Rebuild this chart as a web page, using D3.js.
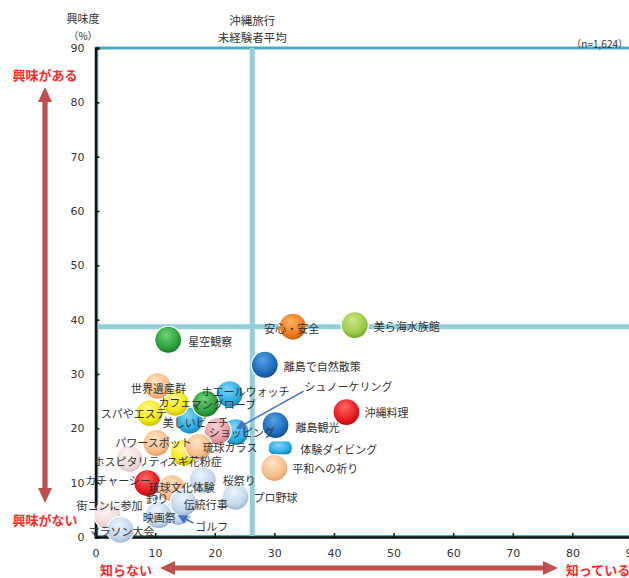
<!DOCTYPE html>
<html><head><meta charset="utf-8">
<script src="https://cdn.jsdelivr.net/npm/d3@7/dist/d3.min.js"></script>
<style>
html,body{margin:0;padding:0;background:#fff;}
svg{display:block;}
text{font-family:"Noto Sans CJK JP","Noto Sans",sans-serif;}
</style></head>
<body>
<svg id="chart" width="629" height="578"></svg>
<script>
// ---- data ----
const items = ["ゴルフ","美しいビーチ","シュノーケリング","スギ花粉症","カフェ","釣り",
  "美ら海水族館","安心・安全","星空観察","離島で自然散策","沖縄料理","離島観光","体験ダイビング","平和への祈り",
  "ホエールウォッチ","マングローブ","世界遺産群","スパやエステ","ショッピング","琉球ガラス","パワースポット",
  "ホスピタリティ","カチャーシー","琉球文化体験","桜祭り","プロ野球","伝統行事","映画祭","街コンに参加","マラソン大会"];
// 認知度（知っている, %）
const awareness = [13.9,15.8,23.5,14.8,13.4,10.2,
  43.5,33.1,12.2,28.4,42.1,30.2,31.0,30.0,
  22.5,18.5,10.4,9.1,20.5,17.3,10.2,
  5.7,8.7,12.8,18.0,23.5,14.8,10.6,2.0,4.2];
// 興味度（%）
const interest = [4.6,21.4,19.3,15.5,24.7,7.2,
  39.0,38.7,36.3,31.7,23.0,20.6,16.4,12.7,
  26.3,24.5,27.8,22.8,19.5,16.6,17.3,
  14.4,9.9,9.0,10.5,7.4,6.3,4.0,4.0,1.3];
const colorGroup = ["lightblue","cyan","cyan","yellow","yellow","cyan",
  "lightgreen","orange","green","darkblue","red","darkblue","cyan","peach",
  "cyan","green","peach","yellow","pink","peach","peach",
  "lightpink","red","peach","lightblue","lightblue","lightblue","lightblue","lightpink","lightblue"];
const avgAwareness = 26.3;   // 沖縄旅行未経験者平均
const avgInterest = 38.7;
const xTicks = [0,10,20,30,40,50,60,70,80,90];
const yTicks = [0,10,20,30,40,50,60,70,80,90];
const sampleNote = "（n=1,624）";

// ---- layout / style (not data) ----
const palette = {
  orange:["#fbb56a","#f07c1b","#c45a05"],
  lightgreen:["#cce88f","#9ccb48","#74a028"],
  green:["#72d27c","#2ea33c","#1a7628"],
  darkblue:["#5aa2e2","#1f6ebd","#144e8a"],
  red:["#ff6a6a","#e81b1f","#b30f12"],
  cyan:["#86d6f6","#2aade4","#1483b6"],
  peach:["#fee4c8","#f8c08c","#e09c62"],
  yellow:["#fff890","#f2e81a","#c8bc00"],
  pink:["#f8d2d5","#e9a2a8","#c97c84"],
  lightpink:["#fdf4f4","#f3dcdc","#dcbcbc"],
  lightblue:["#eef4fb","#c5d8ef","#9cb5d6"]
};
const labelLayout = {
  "美ら海水族館":[19,1,"start"],"安心・安全":[-1,1,"middle"],"星空観察":[20,1,"start"],
  "離島で自然散策":[19,1,"start"],"沖縄料理":[18,0,"start"],"離島観光":[20,2,"start"],
  "体験ダイビング":[20,1,"start"],"平和への祈り":[18,0,"start"],"シュノーケリング":[69,-46,"start"],
  "ホエールウォッチ":[-28,-3,"start"],"マングローブ":[-15,0,"start"],"カフェ":[-17,-1,"start"],
  "世界遺産群":[1,2,"middle"],"スパやエステ":[-49,0,"start"],"美しいビーチ":[-27,1,"start"],
  "ショッピング":[-9,1,"start"],"琉球ガラス":[4,0,"start"],"パワースポット":[-41,-1,"start"],
  "ホスピタリティ":[-36,2,"start"],"スギ花粉症":[-17,8,"start"],"カチャーシー":[-62,-3,"start"],
  "琉球文化体験":[-23,-1,"start"],"桜祭り":[20,0,"start"],"プロ野球":[18,0,"start"],
  "伝統行事":[0,1,"start"],"釣り":[-10,0,"start"],"映画祭":[-16,2,"start"],
  "ゴルフ":[17,14,"start"],"街コンに参加":[-31,-10,"start"],"マラソン大会":[-32,1,"start"]
};
const leaderLines = { // label-relative start, bubble-relative end
  "シュノーケリング":[[-1,5],[2,-4]],
  "ゴルフ":[[-2,-3],[1,4]]
};

const svg = d3.select("#chart");
const x = d3.scaleLinear().domain([0,90]).range([95.5,632]);
const y = d3.scaleLinear().domain([0,90]).range([537,48]);

const defs = svg.append("defs");
Object.entries(palette).forEach(([k,c])=>{
  const g = defs.append("radialGradient").attr("id","g_"+k)
    .attr("cx","45%").attr("cy","38%").attr("r","62%").attr("fx","42%").attr("fy","30%");
  g.append("stop").attr("offset","0%").attr("stop-color",c[0]);
  g.append("stop").attr("offset","70%").attr("stop-color",c[1]);
  g.append("stop").attr("offset","100%").attr("stop-color",c[2]);
});
defs.append("marker").attr("id","arrBlue").attr("viewBox","0 0 10 10").attr("refX",8).attr("refY",5)
  .attr("markerWidth",6).attr("markerHeight",6).attr("orient","auto-start-reverse")
  .append("path").attr("d","M0,0 L10,5 L0,10 z").attr("fill","#4472c4");

// plot border
svg.append("line").attr("x1",x(0)).attr("x2",629).attr("y1",y(90)).attr("y2",y(90))
  .attr("stroke","#4bacc6").attr("stroke-width",3);
svg.append("line").attr("x1",x(0)+2).attr("x2",629).attr("y1",y(0)-1).attr("y2",y(0)-1)
  .attr("stroke","#4bacc6").attr("stroke-width",2);
svg.append("line").attr("x1",x(0)+2).attr("x2",x(0)+2).attr("y1",y(90)).attr("y2",y(0))
  .attr("stroke","#4bacc6").attr("stroke-width",1.5);

// average lines
svg.append("line").attr("x1",x(avgAwareness)).attr("x2",x(avgAwareness)).attr("y1",y(90)).attr("y2",y(0))
  .attr("stroke","#92cddc").attr("stroke-width",5);
svg.append("line").attr("x1",x(0)).attr("x2",629).attr("y1",y(avgInterest)).attr("y2",y(avgInterest))
  .attr("stroke","#92cddc").attr("stroke-width",5);

// axes
const yAxis = d3.axisLeft(y).tickValues(yTicks).tickSize(-4).tickPadding(11);
const gy = svg.append("g").attr("transform",`translate(${x(0)},0)`).call(yAxis);
const xAxis = d3.axisBottom(x).tickValues(xTicks).tickSize(-4).tickPadding(12);
const gx = svg.append("g").attr("transform",`translate(0,${y(0)})`).call(xAxis);
[gx,gy].forEach(g=>{
  g.select(".domain").attr("stroke","#111").attr("stroke-width",2.5);
  g.selectAll(".tick line").attr("stroke","#111").attr("stroke-width",1.5);
  g.selectAll(".tick text").attr("fill","#333").style("font-size","11px")
   .style("font-family","'DejaVu Sans','Liberation Sans',sans-serif");
});

// bubbles
const data = items.map((n,i)=>({name:n,x:awareness[i],y:interest[i],c:colorGroup[i]}));
const R = 13.5;
const bubbles = svg.append("g");
data.forEach(d=>{
  const cx = x(d.x), cy = y(d.y);
  if(d.name==="体験ダイビング"){
    bubbles.append("rect").attr("x",cx-12).attr("y",cy-7).attr("width",24).attr("height",14)
      .attr("rx",6).attr("fill","url(#g_"+d.c+")").attr("stroke","#fff").attr("stroke-width",1);
  } else {
    bubbles.append("circle").attr("cx",cx).attr("cy",cy).attr("r",d.name==="釣り"?2.5:R)
      .attr("fill","url(#g_"+d.c+")").attr("stroke","#fff").attr("stroke-width",1.2);
  }
});

// labels + leader lines
const labels = svg.append("g");
data.forEach(d=>{
  const L = labelLayout[d.name];
  const cx = x(d.x), cy = y(d.y);
  const lx = cx+L[0], ly = cy+L[1];
  labels.append("text").attr("x",lx).attr("y",ly).attr("text-anchor",L[2])
    .attr("dominant-baseline","central").attr("fill","#333").style("font-size","11px").text(d.name);
  const ll = leaderLines[d.name];
  if(ll){
    labels.append("line").attr("x1",lx+ll[0][0]).attr("y1",ly+ll[0][1])
      .attr("x2",cx+ll[1][0]).attr("y2",cy+ll[1][1])
      .attr("stroke","#4472c4").attr("stroke-width",1.6).attr("marker-end","url(#arrBlue)");
  }
});

// titles
const t = (tx,ty,s,opt={})=>svg.append("text").attr("x",tx).attr("y",ty)
  .attr("text-anchor",opt.anchor||"middle").attr("dominant-baseline","central")
  .attr("fill",opt.fill||"#333").style("font-size",(opt.size||11)+"px")
  .style("font-weight",opt.weight||"normal").text(s);
t(83,18,"興味度");
t(83,35,"（%）",{size:10});
t(x(avgAwareness),20,"沖縄旅行",{size:11.5});
t(x(avgAwareness),37,"未経験者平均",{size:11.5});
t(628,43,sampleNote,{anchor:"end",size:10});

// red direction arrows
const red = "#c0504d";
function dblArrowV(xp,y1,y2){
  const hw=7, hl=15, sw=2.6;
  svg.append("path").attr("fill",red).attr("d",
    `M${xp},${y1} L${xp+hw},${y1+hl} L${xp+sw},${y1+hl} L${xp+sw},${y2-hl} L${xp+hw},${y2-hl} L${xp},${y2}
     L${xp-hw},${y2-hl} L${xp-sw},${y2-hl} L${xp-sw},${y1+hl} L${xp-hw},${y1+hl} Z`);
}
function dblArrowH(yp,x1,x2){
  const hw=7, hl=15, sw=2.6;
  svg.append("path").attr("fill",red).attr("d",
    `M${x1},${yp} L${x1+hl},${yp-hw} L${x1+hl},${yp-sw} L${x2-hl},${yp-sw} L${x2-hl},${yp-hw} L${x2},${yp}
     L${x2-hl},${yp+hw} L${x2-hl},${yp+sw} L${x1+hl},${yp+sw} L${x1+hl},${yp+hw} Z`);
}
dblArrowV(45,87,503);
dblArrowH(568,160,558);
const redText = "#ff2a2a";
t(45,74,"興味がある",{fill:redText,size:13,weight:"bold"});
t(45,519,"興味がない",{fill:redText,size:13,weight:"bold"});
t(126,569,"知らない",{fill:redText,size:13,weight:"bold"});
t(598,569,"知っている",{fill:redText,size:13,weight:"bold"});
</script>
</body></html>
